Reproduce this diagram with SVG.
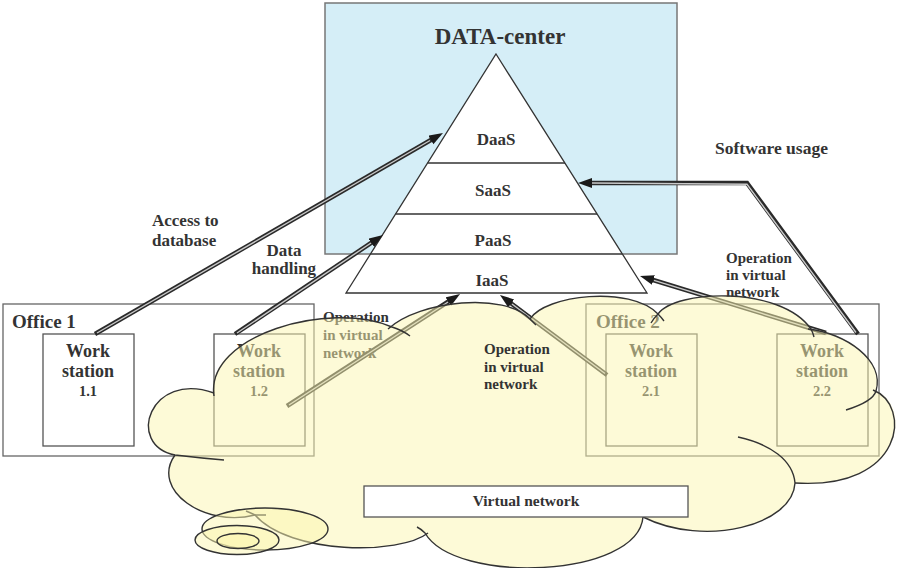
<svg xmlns="http://www.w3.org/2000/svg" width="899" height="568" viewBox="0 0 899 568">
<style>
.t{font-family:"Liberation Serif","Times New Roman",serif;font-weight:bold;fill:#333}
.box{fill:none;stroke:#666;stroke-width:1.3}
.ws{fill:none;stroke:#555;stroke-width:1.3}
.ao{fill:none;stroke:#2a2a2a;stroke-width:4.5;stroke-linejoin:miter;marker-end:url(#ah)}
.ai{fill:none;stroke:#c9c9c9;stroke-width:1.4;stroke-linejoin:miter}
.cf{fill:#fbf5b0;fill-opacity:0.5;stroke:none}
.cl{fill:none;stroke:#333;stroke-width:1.4}
.ce{fill:#fbf5b0;fill-opacity:0.5;stroke:#333;stroke-width:1.4}
</style>
<defs>
<marker id="ah" markerUnits="userSpaceOnUse" markerWidth="16" markerHeight="12" refX="2" refY="5" orient="auto">
<path d="M0,0 L14,5 L0,10 z" fill="#1a1a1a"/>
</marker>
</defs>
<rect width="899" height="568" fill="#fff"/>

<g id="datacenter">
<rect x="325" y="3" width="352" height="251" fill="#d5eef7" stroke="#777" stroke-width="1.5"/>
<text class="t" x="500" y="44" font-size="23" text-anchor="middle">DATA-center</text>
</g>

<g id="pyramid">
<path d="M496,54 L647,293 L346,293 Z" fill="#fff" stroke="#333" stroke-width="1.3"/>
<line x1="427.6" y1="163" x2="565" y2="163" stroke="#333" stroke-width="1.3"/>
<line x1="395.6" y1="214" x2="597" y2="214" stroke="#333" stroke-width="1.3"/>
<line x1="370" y1="254" x2="622" y2="254" stroke="#333" stroke-width="1.3"/>
<text class="t" x="496" y="145" font-size="17" text-anchor="middle">DaaS</text>
<text class="t" x="493" y="196" font-size="17" text-anchor="middle">SaaS</text>
<text class="t" x="493" y="246" font-size="17" text-anchor="middle">PaaS</text>
<text class="t" x="492" y="286" font-size="17" text-anchor="middle">IaaS</text>
</g>

<g id="office1">
<rect class="box" x="3" y="304" width="311" height="152"/>
<text class="t" x="12" y="328" font-size="19">Office 1</text>
</g>
<g id="ws11">
<rect class="ws" x="43" y="334" width="91" height="112"/>
<text class="t" x="88" y="357" font-size="18" text-anchor="middle">Work</text>
<text class="t" x="88" y="377" font-size="18" text-anchor="middle">station</text>
<text class="t" x="88" y="396" font-size="14.5" text-anchor="middle">1.1</text>
</g>
<g id="ws12">
<rect class="ws" x="214" y="334" width="91" height="112"/>
<text class="t" x="259" y="357" font-size="18" text-anchor="middle">Work</text>
<text class="t" x="259" y="377" font-size="18" text-anchor="middle">station</text>
<text class="t" x="259" y="396" font-size="14.5" text-anchor="middle">1.2</text>
</g>
<g id="office2">
<rect class="box" x="586" y="304" width="293" height="152"/>
<text class="t" x="596" y="328" font-size="19">Office 2</text>
</g>
<g id="ws21">
<rect class="ws" x="606" y="334" width="91" height="112"/>
<text class="t" x="651" y="357" font-size="18" text-anchor="middle">Work</text>
<text class="t" x="651" y="377" font-size="18" text-anchor="middle">station</text>
<text class="t" x="651" y="396" font-size="14.5" text-anchor="middle">2.1</text>
</g>
<g id="ws22">
<rect class="ws" x="777" y="334" width="91" height="112"/>
<text class="t" x="822" y="357" font-size="18" text-anchor="middle">Work</text>
<text class="t" x="822" y="377" font-size="18" text-anchor="middle">station</text>
<text class="t" x="822" y="396" font-size="14.5" text-anchor="middle">2.2</text>
</g>

<g id="labels">
<text class="t" x="152" y="226" font-size="17">Access to</text>
<text class="t" x="152" y="246" font-size="17">database</text>
<text class="t" x="284" y="256" font-size="17" text-anchor="middle">Data</text>
<text class="t" x="284" y="274" font-size="17" text-anchor="middle">handling</text>
<text class="t" x="715" y="154" font-size="17.5">Software usage</text>
<text class="t" x="323" y="322" font-size="15">Operation</text>
<text class="t" x="323" y="340" font-size="15">in virtual</text>
<text class="t" x="323" y="358" font-size="15">network</text>
<text class="t" x="726" y="263" font-size="15">Operation</text>
<text class="t" x="726" y="280" font-size="15">in virtual</text>
<text class="t" x="726" y="297" font-size="15">network</text>
</g>

<g id="connectors">
<path class="ao" d="M95,334 L432.6,139"/>
<path class="ai" d="M97,333 L430,140.5"/>
<path class="ao" d="M235,334 L373,241.7"/>
<path class="ai" d="M237,333 L371,243"/>
<path class="ao" d="M287,406 L450,300.5"/>
<path class="ai" d="M289,405 L448,302"/>
<path class="ao" d="M607,375 L509.6,302.2"/>
<path class="ai" d="M605,373.5 L512,304"/>
<path class="ao" d="M826,333 L651.5,279.5"/>
<path class="ai" d="M824,332.4 L654,280.3"/>
<path class="ao" d="M858,334 L747,183 L590,183"/>
<path class="ai" d="M856,332.5 L747,184.3 L592,183"/>
</g>

<g id="cloud">
<path class="cf" d="M214,393 C205,335 330,300 392,327 C420,300 505,292 530,319 C545,295 630,285 658,314 C675,290 780,285 811,329 C845,333 885,360 876,391 C912,405 905,490 795,483 C793,525 705,548 643,517 C638,578 455,585 425,533 C400,555 290,555 255,515 C205,528 150,490 175,455 C125,445 150,370 214,393 Z"/>
<path class="cl" d="M214,396 C205,335 330,300 392,327 Q402,330 410,336"/>
<path class="cl" d="M388,329 C420,300 505,292 530,319 Q533,322 536,325"/>
<path class="cl" d="M530,319 C545,295 630,285 658,314 Q661,317 664,321"/>
<path class="cl" d="M651,323 Q654,318 658,314 C675,290 780,285 811,329 Q813,333 814,337"/>
<path class="cl" d="M808,329 C845,333 885,360 876,391 C874,398 862,405 846,410"/>
<path class="cl" d="M873,390 C912,405 905,490 795,483"/>
<path class="cl" d="M738,437 C770,444 793,460 795,483 C793,525 705,548 643,517"/>
<path class="cl" d="M643,517 C638,578 455,585 425,533 Q421,529 417,527"/>
<path class="cl" d="M428,533 C400,555 290,555 255,515 Q251,513 246,511"/>
<path class="cl" d="M266,515 Q261,515 255,515 C205,528 150,490 175,455"/>
<path class="cl" d="M224,460 Q200,458 175,455 C125,445 150,370 214,393"/>
<ellipse class="ce" cx="265" cy="529" rx="63" ry="21"/>
<ellipse class="ce" cx="237" cy="540" rx="42" ry="14.5"/>
<ellipse class="ce" cx="238" cy="541" rx="21" ry="7.5"/>
</g>

<g id="midlabel">
<text class="t" x="484" y="354" font-size="15">Operation</text>
<text class="t" x="484" y="372" font-size="15">in virtual</text>
<text class="t" x="484" y="389" font-size="15">network</text>
</g>

<g id="virtualnetwork">
<rect x="364" y="486" width="324" height="31" fill="#fff" stroke="#555" stroke-width="1.3"/>
<text class="t" x="526" y="506" font-size="15.5" text-anchor="middle">Virtual network</text>
</g>
</svg>
